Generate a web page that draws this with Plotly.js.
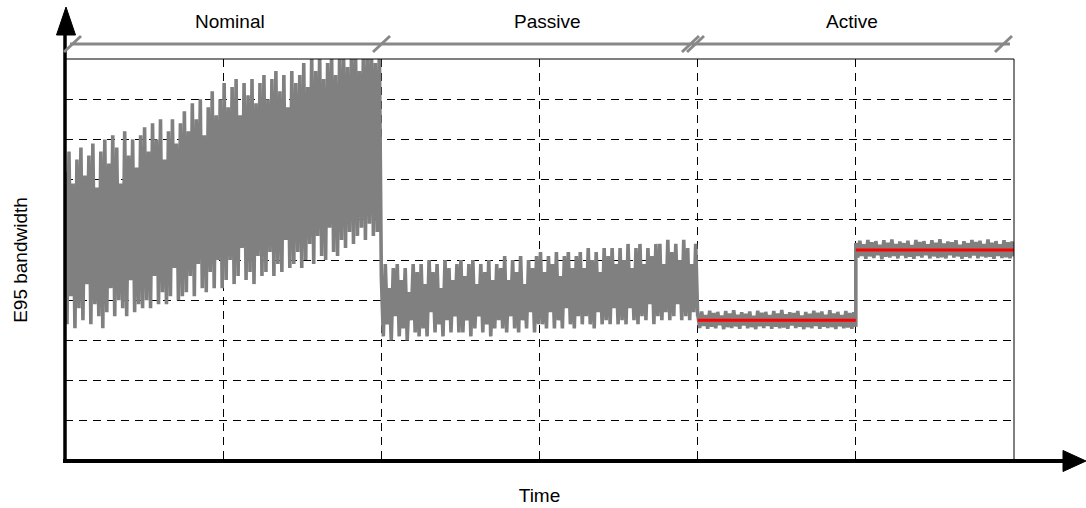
<!DOCTYPE html>
<html>
<head>
<meta charset="utf-8">
<script src="https://cdn.plot.ly/plotly-3.0.1.min.js"></script>
<style>html,body{margin:0;padding:0;background:#fff;}#chart{width:1086px;height:508px;}</style>
</head>
<body>
<div id="chart"></div>
<script>
// ---- data (y in grid units 0..10, time in grid columns 0..6) ----
var phaseNames = ["Nominal", "Passive", "Active"];
var phaseBounds = [0, 2, 4, 6];           // time where each phase starts / ends
var nominalY = [7.2,3.4,7.7,4.1,6.9,3.3,7.5,3.8,7.8,3.5,7.1,4.4,7.6,3.4,7.9,3.9,6.8,3.6,7.7,3.3,
  8.0,3.7,7.4,4.3,8.1,3.6,7.8,4.0,6.9,3.8,8.2,3.6,7.6,4.5,8.0,3.7,7.3,3.9,8.1,3.8,
  8.3,4.0,7.7,3.8,8.4,4.6,8.0,3.9,8.5,4.2,7.5,3.9,8.2,4.1,8.5,4.8,7.9,4.0,8.4,4.1,
  8.7,4.2,8.2,4.6,8.9,4.1,8.5,4.9,9.0,4.3,8.1,4.2,8.8,4.7,9.2,4.3,8.6,5.0,9.0,4.3,
  9.4,4.5,8.8,5.0,9.3,4.4,9.5,4.6,8.6,5.3,9.4,4.5,9.1,4.7,9.5,4.4,8.9,5.1,9.4,4.6,
  9.6,4.7,9.0,5.2,9.5,4.6,9.7,4.9,9.2,4.7,9.6,5.5,8.8,4.8,9.7,4.9,9.4,5.2,9.6,4.8,
  9.9,5.0,9.3,5.4,10.1,4.9,9.7,5.6,10.2,5.1,9.5,5.0,9.9,5.8,10.2,5.2,9.6,5.1,10.0,5.5,
  10.3,5.3,9.8,5.7,10.2,5.4,10.4,5.6,9.7,5.8,10.3,5.5,10.1,5.9,10.4,5.6,9.9,5.7,10.3,5.6];
var passiveY = [4.6,3.1,4.9,3.4,4.3,3.0,4.8,3.6,4.9,3.1,4.5,3.3,4.8,3.0,4.2,3.5,4.9,3.2,4.7,3.1,
  4.9,3.3,4.4,3.1,5.0,3.7,4.7,3.2,4.9,3.4,4.3,3.1,5.0,3.5,4.8,3.2,4.5,3.6,4.9,3.2,
  5.0,3.2,4.6,3.5,4.9,3.1,5.0,3.3,4.4,3.6,4.9,3.2,4.7,3.4,5.0,3.1,4.5,3.3,4.9,3.5,
  4.8,3.3,5.1,3.2,4.5,3.6,5.0,3.3,4.7,3.2,5.1,3.5,4.4,3.3,5.0,3.7,4.8,3.2,5.1,3.4,
  5.2,3.4,4.7,3.3,5.1,3.7,4.9,3.3,5.2,3.5,4.6,3.3,5.1,3.8,5.2,3.4,4.8,3.3,5.1,3.6,
  5.2,3.4,4.8,3.6,5.3,3.4,5.0,3.3,5.2,3.7,4.7,3.4,5.3,3.5,5.1,3.4,5.3,3.8,4.9,3.4,
  5.3,3.5,5.0,3.4,5.4,3.8,4.8,3.5,5.3,3.4,5.4,3.6,4.9,3.5,5.3,3.9,5.1,3.4,5.4,3.6,
  5.4,3.5,4.9,3.7,5.5,3.5,5.2,3.6,5.4,3.9,5.0,3.5,5.5,3.6,5.3,3.5,4.9,3.7,5.4,3.6];
var active1Y = [3.66,3.31,3.72,3.36,3.63,3.29,3.74,3.34,3.68,3.3,3.71,3.38,3.62,3.28,3.73,3.33,3.67,3.31,3.75,3.35,
  3.64,3.29,3.7,3.37,3.66,3.3,3.72,3.33,3.61,3.28,3.74,3.35,3.69,3.31,3.71,3.36,3.63,3.29,3.73,3.34,
  3.67,3.3,3.76,3.32,3.65,3.29,3.7,3.37,3.68,3.31,3.73,3.34,3.62,3.28,3.71,3.33,3.66,3.3,3.74,3.36,
  3.69,3.29,3.72,3.34,3.64,3.31,3.75,3.33,3.67,3.28,3.71,3.35,3.63,3.3,3.73,3.32,3.68,3.29,3.7,3.34];
var active2Y = [5.42,5.06,5.48,5.1,5.39,5.03,5.5,5.09,5.44,5.05,5.47,5.12,5.38,5.02,5.49,5.08,5.43,5.06,5.51,5.1,
  5.4,5.04,5.46,5.11,5.42,5.05,5.48,5.08,5.37,5.03,5.5,5.1,5.45,5.06,5.47,5.12,5.39,5.04,5.49,5.09,
  5.43,5.05,5.52,5.07,5.41,5.04,5.46,5.12,5.44,5.06,5.49,5.09,5.38,5.03,5.47,5.08,5.42,5.05,5.5,5.11,
  5.45,5.04,5.48,5.09,5.4,5.06,5.51,5.08,5.43,5.03,5.47,5.1,5.39,5.05,5.49,5.07,5.44,5.04,5.46,5.09];
var activeMeans = [3.5, 5.25];
var activeMeanSpans = [[4, 5], [5, 6]];

// ---- build series (uniform sampling within each segment) ----
function segment(vals, t0, t1) {
  var xs = [];
  for (var i = 0; i < vals.length; i++) xs.push(t0 + (t1 - t0) * i / (vals.length - 1));
  return xs;
}
var segs = [[nominalY, 0, 2], [passiveY, 2, 4], [active1Y, 4, 5], [active2Y, 5, 6]];
var tx = [], ty = [];
segs.forEach(function (s) {
  var xs = segment(s[0], s[1], s[2]);
  tx = tx.concat(xs); ty = ty.concat(s[0]);
});

var traces = [{
  type: 'scatter', mode: 'lines', x: tx, y: ty,
  line: {color: '#808080', width: 3.6}, hoverinfo: 'skip', showlegend: false
}];
activeMeans.forEach(function (m, i) {
  traces.push({
    type: 'scatter', mode: 'lines', x: activeMeanSpans[i], y: [m, m],
    line: {color: '#ff0000', width: 3}, hoverinfo: 'skip', showlegend: false
  });
});

// ---- layout helpers (pixel -> paper) ----
var L = 65, R = 1014, T = 59, B = 461;
function px(x) { return (x - L) / (R - L); }
function py(y) { return (B - y) / (B - T); }
function seg(x0, y0, x1, y1, color, w) {
  return {type: 'line', xref: 'paper', yref: 'paper', x0: px(x0), y0: py(y0), x1: px(x1), y1: py(y1),
    line: {color: color, width: w}, layer: 'above'};
}
function tri(pts) {
  var d = 'M ' + pts.map(function (p) { return px(p[0]) + ' ' + py(p[1]); }).join(' L ') + ' Z';
  return {type: 'path', xref: 'paper', yref: 'paper', path: d, fillcolor: '#000', line: {color: '#000', width: 1}, layer: 'above'};
}
var gray = '#888888';
var shapes = [
  seg(L, T, R, T, '#000', 1),
  seg(R, T, R, B, '#000', 1),
  seg(L, B + 2, L, 33, '#000', 3.5),
  seg(L - 2, B, 1064, B, '#000', 4),
  tri([[66, 7], [56.5, 35], [75.5, 35]]),
  tri([[1086, 461], [1063, 450.5], [1063, 471.5]]),
  // phase bracket
  seg(70, 44, 1010, 44, gray, 3.2),
  seg(64, 52, 81, 36, gray, 3),
  seg(373, 52, 390, 36, gray, 3),
  seg(682, 52, 699, 36, gray, 3),
  seg(687, 52, 704, 36, gray, 3),
  seg(995, 52, 1012, 36, gray, 3)
];
var labelPx = [230, 547, 852];
var annotations = phaseNames.map(function (n, i) {
  return {xref: 'paper', yref: 'paper', x: px(labelPx[i]), y: py(21), text: n, showarrow: false,
    xanchor: 'center', yanchor: 'middle', font: {size: 19, color: '#000'}};
});

var font = 'Liberation Sans, Arial, sans-serif';
var axisCommon = {
  showgrid: true, gridcolor: '#000', gridwidth: 1, griddash: '8px,6px',
  showticklabels: false, ticks: '', zeroline: false, showline: false, fixedrange: true, automargin: false
};
var layout = {
  width: 1086, height: 508,
  margin: {l: L, r: 1086 - R, t: T, b: 508 - B},
  paper_bgcolor: '#fff', plot_bgcolor: '#fff',
  font: {family: font, color: '#000'},
  showlegend: false,
  xaxis: Object.assign({}, axisCommon, {range: [0, 6], tick0: 0, dtick: 1,
    title: {text: 'Time', font: {size: 19, color: '#000'}, standoff: 27}}),
  yaxis: Object.assign({}, axisCommon, {range: [0, 10], tick0: 0, dtick: 1,
    title: {text: 'E95 bandwidth', font: {size: 19, color: '#000'}, standoff: 31}}),
  shapes: shapes,
  annotations: annotations
};
Plotly.newPlot('chart', traces, layout, {displayModeBar: false, staticPlot: true});
</script>
</body>
</html>
